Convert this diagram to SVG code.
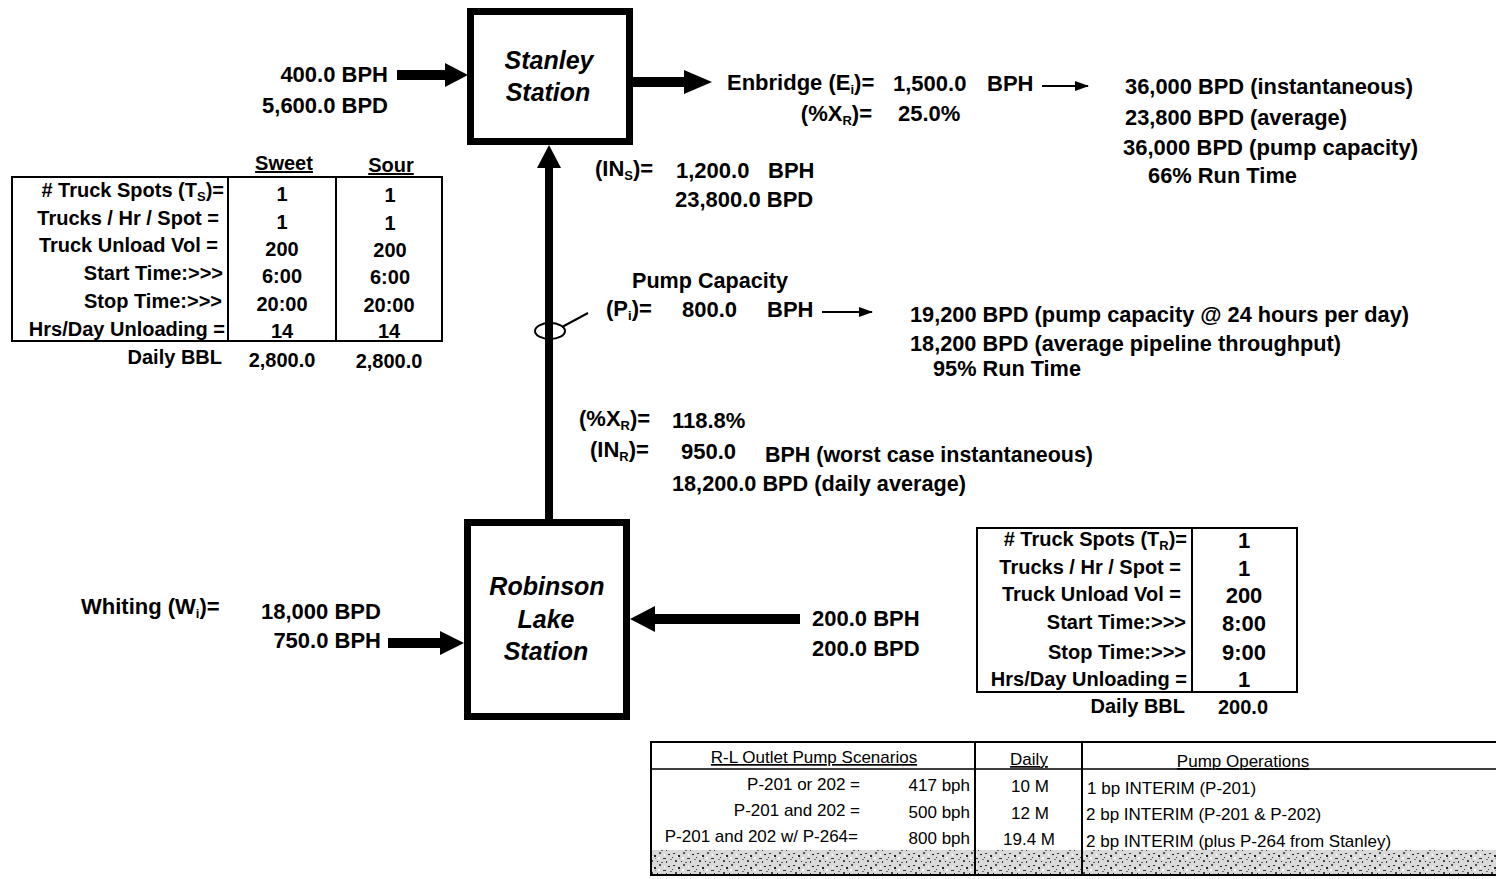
<svg xmlns="http://www.w3.org/2000/svg" width="1496" height="879" viewBox="0 0 1496 879">
<style>
.t{font-family:"Liberation Sans",Arial,sans-serif;font-weight:bold;font-size:22px;fill:#000}
.s{font-family:"Liberation Sans",Arial,sans-serif;font-weight:bold;font-size:20px;fill:#000}
.r{font-family:"Liberation Sans",Arial,sans-serif;font-size:17px;fill:#000}
.st{font-family:"Liberation Sans",Arial,sans-serif;font-weight:bold;font-style:italic;font-size:25px;fill:#000}
.e{text-anchor:end}
.m{text-anchor:middle}
.sub{font-size:13px}
.box{fill:#fff;stroke:#000;stroke-width:7}
.tb{fill:none;stroke:#000;stroke-width:2}
.thin{stroke:#000;stroke-width:2;fill:none}
</style>
<defs>
<marker id="ah" markerWidth="14" markerHeight="10" refX="13" refY="5" orient="auto" markerUnits="userSpaceOnUse">
<path d="M0,0 L14,5 L0,10 Z" fill="#000"/>
</marker>
<pattern id="noise" width="24" height="12" patternUnits="userSpaceOnUse">
<rect width="24" height="12" fill="#d9d9d9"/>
<rect x="1" y="1" width="2" height="1" fill="#333"/>
<rect x="6" y="3" width="2" height="2" fill="#222"/>
<rect x="11" y="0" width="2" height="2" fill="#555"/>
<rect x="15" y="6" width="3" height="1" fill="#333"/>
<rect x="20" y="2" width="2" height="1" fill="#111"/>
<rect x="3" y="8" width="2" height="2" fill="#444"/>
<rect x="9" y="9" width="1" height="1" fill="#222"/>
<rect x="13" y="10" width="2" height="1" fill="#666"/>
<rect x="18" y="9" width="1" height="2" fill="#333"/>
<rect x="22" y="7" width="2" height="1" fill="#777"/>
<rect x="7" y="6" width="1" height="1" fill="#888"/>
<rect x="0" y="5" width="1" height="1" fill="#444"/>
<rect x="16" y="2" width="1" height="2" fill="#fff"/>
<rect x="4" y="4" width="2" height="1" fill="#fff"/>
<rect x="10" y="5" width="2" height="2" fill="#fff"/>
</pattern>
</defs>

<rect width="1496" height="879" fill="#fff"/>

<g id="connectors">
<rect x="397" y="70" width="50" height="10" fill="#000"/>
<path d="M445,63 L468,75 L445,87 Z" fill="#000"/>
<rect x="633" y="77" width="55" height="10" fill="#000"/>
<path d="M684,70 L712,82 L684,94 Z" fill="#000"/>
<rect x="545" y="166" width="8" height="354" fill="#000"/>
<path d="M537,168 L549,145 L561,168 Z" fill="#000"/>
<rect x="388" y="638" width="55" height="10" fill="#000"/>
<path d="M440,631 L464,643 L440,655 Z" fill="#000"/>
<rect x="652" y="614" width="148" height="10" fill="#000"/>
<path d="M655,606 L630,619 L655,632 Z" fill="#000"/>
<line x1="1042" y1="86" x2="1088" y2="86" class="thin" marker-end="url(#ah)"/>
<line x1="822" y1="312" x2="872" y2="312" class="thin" marker-end="url(#ah)"/>
<ellipse cx="550" cy="331" rx="15" ry="8" class="thin"/>
<line x1="562" y1="327" x2="588" y2="313" class="thin" stroke-width="1.5"/>
</g>

<g id="stanley">
<rect x="470.5" y="11.5" width="159" height="130" class="box"/>
<text x="549" y="69" class="st m">Stanley</text>
<text x="548" y="101" class="st m">Station</text>
</g>

<g id="robinson">
<rect x="467.5" y="522.5" width="159" height="194" class="box"/>
<text x="547" y="595" class="st m">Robinson</text>
<text x="546" y="628" class="st m">Lake</text>
<text x="546" y="660" class="st m">Station</text>
</g>

<g id="stanley-inflow">
<text x="388" y="82" class="t e">400.0 BPH</text>
<text x="388" y="113" class="t e">5,600.0 BPD</text>
</g>

<g id="enbridge">
<text x="727" y="90" class="t">Enbridge (E<tspan class="sub" dy="4">i</tspan><tspan dy="-4">)=</tspan></text>
<text x="893" y="91" class="t">1,500.0</text>
<text x="987" y="91" class="t">BPH</text>
<text x="872" y="121" class="t e">(%X<tspan class="sub" dy="4">R</tspan><tspan dy="-4">)=</tspan></text>
<text x="898" y="121" class="t">25.0%</text>
<text x="1125" y="94" class="t" textLength="288" lengthAdjust="spacingAndGlyphs">36,000 BPD (instantaneous)</text>
<text x="1125" y="125" class="t" textLength="222" lengthAdjust="spacingAndGlyphs">23,800 BPD (average)</text>
<text x="1123" y="155" class="t" textLength="295" lengthAdjust="spacingAndGlyphs">36,000 BPD (pump capacity)</text>
<text x="1148" y="183" class="t" textLength="149" lengthAdjust="spacingAndGlyphs">66% Run Time</text>
</g>

<g id="stanley-in">
<text x="595" y="176" class="t">(IN<tspan class="sub" dy="4">S</tspan><tspan dy="-4">)=</tspan></text>
<text x="676" y="178" class="t">1,200.0</text>
<text x="768" y="178" class="t">BPH</text>
<text x="675" y="207" class="t">23,800.0 BPD</text>
</g>

<g id="pump">
<text x="632" y="288" class="t" textLength="156" lengthAdjust="spacingAndGlyphs">Pump Capacity</text>
<text x="606" y="316" class="t">(P<tspan class="sub" dy="4">i</tspan><tspan dy="-4">)=</tspan></text>
<text x="682" y="317" class="t">800.0</text>
<text x="767" y="317" class="t">BPH</text>
<text x="910" y="322" class="t" textLength="499" lengthAdjust="spacingAndGlyphs">19,200 BPD (pump capacity @ 24 hours per day)</text>
<text x="910" y="351" class="t" textLength="431" lengthAdjust="spacingAndGlyphs">18,200 BPD (average pipeline throughput)</text>
<text x="933" y="376" class="t" textLength="148" lengthAdjust="spacingAndGlyphs">95% Run Time</text>
</g>

<g id="robinson-out">
<text x="579" y="426" class="t">(%X<tspan class="sub" dy="4">R</tspan><tspan dy="-4">)=</tspan></text>
<text x="672" y="428" class="t">118.8%</text>
<text x="590" y="457" class="t">(IN<tspan class="sub" dy="4">R</tspan><tspan dy="-4">)=</tspan></text>
<text x="681" y="459" class="t">950.0</text>
<text x="765" y="462" class="t" textLength="328" lengthAdjust="spacingAndGlyphs">BPH (worst case instantaneous)</text>
<text x="672" y="491" class="t" textLength="294" lengthAdjust="spacingAndGlyphs">18,200.0 BPD (daily average)</text>
</g>

<g id="whiting">
<text x="81" y="614" class="t">Whiting (W<tspan class="sub" dy="4">i</tspan><tspan dy="-4">)=</tspan></text>
<text x="261" y="619" class="t">18,000 BPD</text>
<text x="381" y="648" class="t e">750.0 BPH</text>
</g>

<g id="truck-inflow">
<text x="812" y="626" class="t">200.0 BPH</text>
<text x="812" y="656" class="t">200.0 BPD</text>
</g>

<g id="stanley-trucks">
<text x="284" y="170" class="s m" text-decoration="underline">Sweet</text>
<text x="391" y="172" class="s m" text-decoration="underline">Sour</text>
<rect x="12" y="177" width="430" height="164" class="tb"/>
<line x1="228" y1="177" x2="228" y2="341" class="tb"/>
<line x1="336" y1="177" x2="336" y2="341" class="tb"/>
<text x="224" y="197" class="s e"># Truck Spots (T<tspan class="sub" dy="4">S</tspan><tspan dy="-4">)=</tspan></text>
<text x="219" y="225" class="s e">Trucks / Hr / Spot =</text>
<text x="218" y="252" class="s e">Truck Unload Vol =</text>
<text x="223" y="280" class="s e">Start Time:&gt;&gt;&gt;</text>
<text x="222" y="308" class="s e">Stop Time:&gt;&gt;&gt;</text>
<text x="225" y="336" class="s e">Hrs/Day Unloading =</text>
<text x="282" y="201" class="s m">1</text>
<text x="282" y="229" class="s m">1</text>
<text x="282" y="256" class="s m">200</text>
<text x="282" y="283" class="s m">6:00</text>
<text x="282" y="311" class="s m">20:00</text>
<text x="282" y="338" class="s m">14</text>
<text x="390" y="202" class="s m">1</text>
<text x="390" y="230" class="s m">1</text>
<text x="390" y="257" class="s m">200</text>
<text x="390" y="284" class="s m">6:00</text>
<text x="389" y="312" class="s m">20:00</text>
<text x="389" y="338" class="s m">14</text>
<text x="222" y="364" class="s e">Daily BBL</text>
<text x="282" y="367" class="s m">2,800.0</text>
<text x="389" y="368" class="s m">2,800.0</text>
</g>

<g id="robinson-trucks">
<rect x="977" y="528" width="320" height="164" class="tb"/>
<line x1="1192" y1="528" x2="1192" y2="692" class="tb"/>
<text x="1187" y="546" class="s e"># Truck Spots (T<tspan class="sub" dy="4">R</tspan><tspan dy="-4">)=</tspan></text>
<text x="1181" y="574" class="s e">Trucks / Hr / Spot =</text>
<text x="1181" y="601" class="s e">Truck Unload Vol =</text>
<text x="1186" y="629" class="s e">Start Time:&gt;&gt;&gt;</text>
<text x="1186" y="659" class="s e">Stop Time:&gt;&gt;&gt;</text>
<text x="1187" y="686" class="s e">Hrs/Day Unloading =</text>
<text x="1244" y="548" class="t m">1</text>
<text x="1244" y="576" class="t m">1</text>
<text x="1244" y="603" class="t m">200</text>
<text x="1244" y="631" class="t m">8:00</text>
<text x="1244" y="660" class="t m">9:00</text>
<text x="1244" y="687" class="t m">1</text>
<text x="1185" y="713" class="s e">Daily BBL</text>
<text x="1243" y="714" class="s m">200.0</text>
</g>

<g id="pump-scenarios">
<rect x="650" y="850" width="846" height="24" fill="url(#noise)"/>
<line x1="650" y1="742" x2="1496" y2="742" class="tb"/>
<line x1="650" y1="769" x2="1496" y2="769" stroke="#000" stroke-width="1.5"/>
<line x1="650" y1="875" x2="1496" y2="875" class="tb"/>
<line x1="651" y1="742" x2="651" y2="875" class="tb"/>
<line x1="975" y1="742" x2="975" y2="875" class="tb"/>
<line x1="1082" y1="742" x2="1082" y2="875" class="tb"/>
<text x="814" y="763" class="r m" text-decoration="underline">R-L Outlet Pump Scenarios</text>
<text x="1029" y="765" class="r m" text-decoration="underline">Daily</text>
<text x="1243" y="767" class="r m" text-decoration="underline">Pump Operations</text>
<text x="860" y="790" class="r e">P-201 or 202 =</text>
<text x="970" y="791" class="r e">417 bph</text>
<text x="1030" y="792" class="r m">10 M</text>
<text x="1087" y="794" class="r">1 bp INTERIM (P-201)</text>
<text x="860" y="816" class="r e">P-201 and 202 =</text>
<text x="970" y="818" class="r e">500 bph</text>
<text x="1030" y="819" class="r m">12 M</text>
<text x="1086" y="820" class="r">2 bp INTERIM (P-201 &amp; P-202)</text>
<text x="858" y="842" class="r e">P-201 and 202 w/ P-264=</text>
<text x="970" y="844" class="r e">800 bph</text>
<text x="1029" y="845" class="r m">19.4 M</text>
<text x="1086" y="847" class="r">2 bp INTERIM (plus P-264 from Stanley)</text>
</g>
</svg>
